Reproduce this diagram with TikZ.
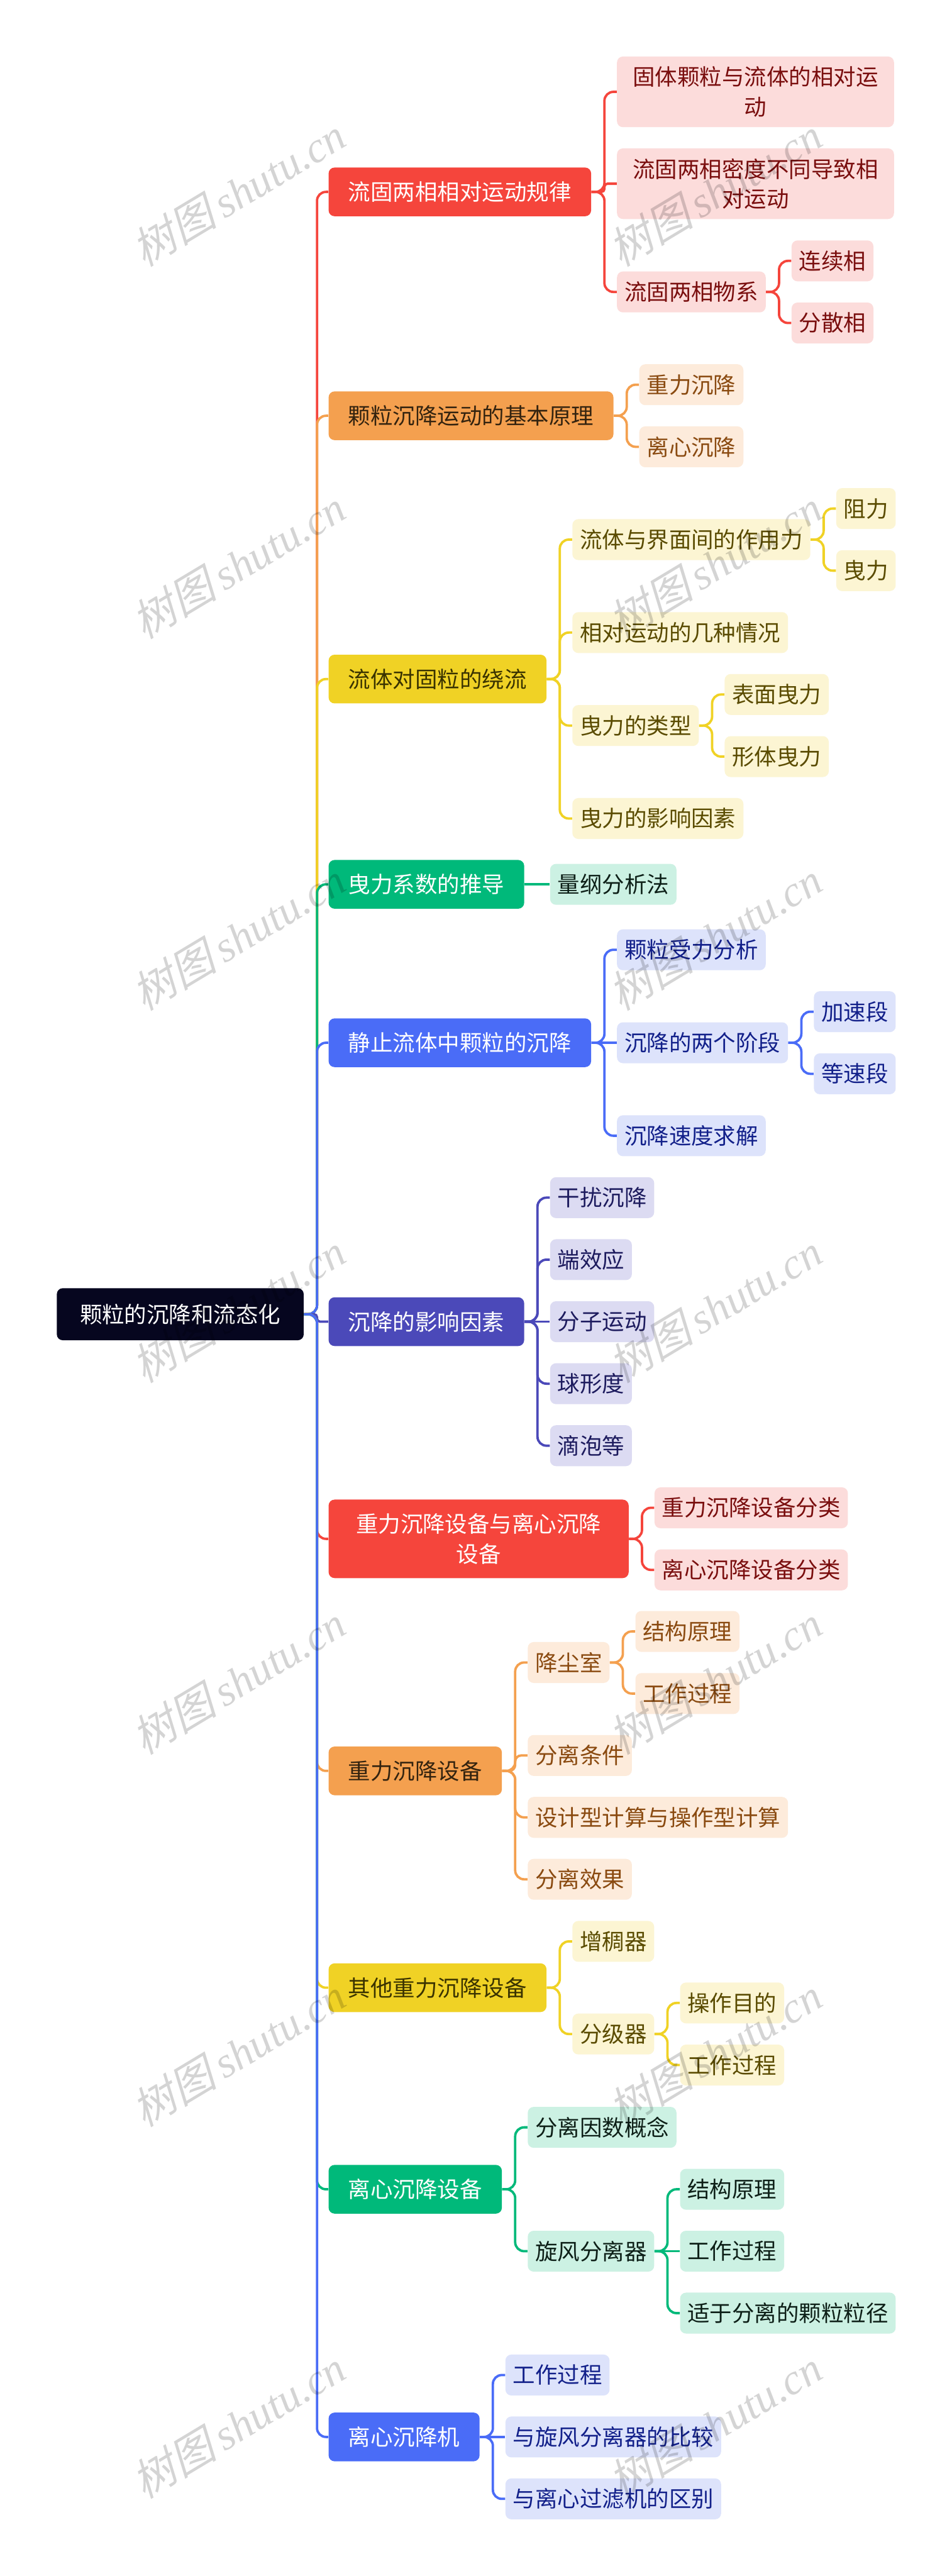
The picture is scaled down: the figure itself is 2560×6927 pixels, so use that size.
\documentclass[tikz,border=0pt]{standalone}
\usepackage{fontspec}
\setmainfont{Noto Sans CJK SC}
\newfontfamily\wmcjk{Noto Sans CJK SC}[FakeSlant=0.25]
\newfontfamily\wmlat{Liberation Serif}
\usetikzlibrary{calc}
\definecolor{rootc}{HTML}{06061F}
\definecolor{redA}{HTML}{F5453C}\definecolor{redB}{HTML}{FCDCDB}\definecolor{redT}{HTML}{7A0E0E}
\definecolor{oraA}{HTML}{F4A04F}\definecolor{oraB}{HTML}{FDEBDB}\definecolor{oraT}{HTML}{8A4A10}\definecolor{oraL}{HTML}{33230F}
\definecolor{yelA}{HTML}{F0D225}\definecolor{yelB}{HTML}{FCF5D3}\definecolor{yelT}{HTML}{5A4B00}\definecolor{yelL}{HTML}{3A3300}
\definecolor{grnA}{HTML}{00B97A}\definecolor{grnB}{HTML}{CCF1E3}\definecolor{grnT}{HTML}{0D1F17}
\definecolor{bluA}{HTML}{4A6CF7}\definecolor{bluB}{HTML}{DDE3FB}\definecolor{bluT}{HTML}{12208A}
\definecolor{indA}{HTML}{4B49B9}\definecolor{indB}{HTML}{DCDBF2}\definecolor{indT}{HTML}{1D1B5E}
\tikzset{
  base/.style={rounded corners=4pt, inner ysep=0pt, font=\fontsize{15pt}{20pt}\selectfont, anchor=west},
  rootbox/.style={base, fill=rootc, text=white, inner xsep=15.5pt, minimum height=35pt},
  lone/.style 2 args={base, fill=#1, text=#2, inner xsep=13.25pt, minimum height=32.75pt},
  ltwo/.style 2 args={base, fill=#1, text=#2, inner xsep=5pt, minimum height=27.5pt},
  conn/.style={line width=1.6pt, rounded corners=6pt, draw=#1},
  wm/.style={text=black, text opacity=0.17, rotate=31, font=\fontsize{29pt}{34pt}\selectfont, inner sep=0pt}
}
\begin{document}
\begin{tikzpicture}[x=0.25pt,y=-0.25pt]
\useasboundingbox[fill=white] (0,0) rectangle (2560,6927);
% root and level 1
\node[rootbox] (root) at (152,3534) {颗粒的沉降和流态化};
\node[lone={redA}{white}] (n1) at (883,516) {流固两相相对运动规律};
\node[lone={oraA}{oraL}] (n2) at (883,1118) {颗粒沉降运动的基本原理};
\node[lone={yelA}{yelL}] (n3) at (883,1826) {流体对固粒的绕流};
\node[lone={grnA}{white}] (n4) at (883,2378) {曳力系数的推导};
\node[lone={bluA}{white}] (n5) at (883,2804) {静止流体中颗粒的沉降};
\node[lone={indA}{white}] (n6) at (883,3554) {沉降的影响因素};
\node[lone={redA}{white}, text width=175.25pt, align=center, minimum height=52.75pt] (n7) at (883,4138) {重力沉降设备与离心沉降\\设备};
\node[lone={oraA}{oraL}] (n8) at (883,4762) {重力沉降设备};
\node[lone={yelA}{yelL}] (n9) at (883,5345) {其他重力沉降设备};
\node[lone={grnA}{white}] (n10) at (883,5887) {离心沉降设备};
\node[lone={bluA}{white}] (n11) at (883,6553) {离心沉降机};
% branch 1
\node[ltwo={redB}{redT}, text width=176.25pt, align=center, minimum height=47.5pt] (a1) at ($(n1.east)+(68,-269)$) {固体颗粒与流体的相对运\\动};
\node[ltwo={redB}{redT}, text width=176.25pt, align=center, minimum height=47.5pt] (a2) at ($(n1.east)+(68,-22)$) {流固两相密度不同导致相\\对运动};
\node[ltwo={redB}{redT}] (a3) at ($(n1.east)+(68,269)$) {流固两相物系};
\node[ltwo={redB}{redT}] (a31) at ($(a3.east)+(68,-83.5)$) {连续相};
\node[ltwo={redB}{redT}] (a32) at ($(a3.east)+(68,83.5)$) {分散相};
% branch 2
\node[ltwo={oraB}{oraT}] (b1) at ($(n2.east)+(68,-83.5)$) {重力沉降};
\node[ltwo={oraB}{oraT}] (b2) at ($(n2.east)+(68,83.5)$) {离心沉降};
% branch 3
\node[ltwo={yelB}{yelT}] (c1) at ($(n3.east)+(68,-375)$) {流体与界面间的作用力};
\node[ltwo={yelB}{yelT}] (c11) at ($(c1.east)+(68,-83.5)$) {阻力};
\node[ltwo={yelB}{yelT}] (c12) at ($(c1.east)+(68,83.5)$) {曳力};
\node[ltwo={yelB}{yelT}] (c2) at ($(n3.east)+(68,-125)$) {相对运动的几种情况};
\node[ltwo={yelB}{yelT}] (c3) at ($(n3.east)+(68,125)$) {曳力的类型};
\node[ltwo={yelB}{yelT}] (c31) at ($(c3.east)+(68,-83.5)$) {表面曳力};
\node[ltwo={yelB}{yelT}] (c32) at ($(c3.east)+(68,83.5)$) {形体曳力};
\node[ltwo={yelB}{yelT}] (c4) at ($(n3.east)+(68,375)$) {曳力的影响因素};
% branch 4
\node[ltwo={grnB}{grnT}] (d1) at ($(n4.east)+(68,0)$) {量纲分析法};
% branch 5
\node[ltwo={bluB}{bluT}] (e1) at ($(n5.east)+(68,-250)$) {颗粒受力分析};
\node[ltwo={bluB}{bluT}] (e2) at ($(n5.east)+(68,0)$) {沉降的两个阶段};
\node[ltwo={bluB}{bluT}] (e21) at ($(e2.east)+(68,-83.5)$) {加速段};
\node[ltwo={bluB}{bluT}] (e22) at ($(e2.east)+(68,83.5)$) {等速段};
\node[ltwo={bluB}{bluT}] (e3) at ($(n5.east)+(68,250)$) {沉降速度求解};
% branch 6
\node[ltwo={indB}{indT}] (f1) at ($(n6.east)+(68,-333.5)$) {干扰沉降};
\node[ltwo={indB}{indT}] (f2) at ($(n6.east)+(68,-166.75)$) {端效应};
\node[ltwo={indB}{indT}] (f3) at ($(n6.east)+(68,0)$) {分子运动};
\node[ltwo={indB}{indT}] (f4) at ($(n6.east)+(68,166.75)$) {球形度};
\node[ltwo={indB}{indT}] (f5) at ($(n6.east)+(68,333.5)$) {滴泡等};
% branch 7
\node[ltwo={redB}{redT}] (g1) at ($(n7.east)+(68,-83.5)$) {重力沉降设备分类};
\node[ltwo={redB}{redT}] (g2) at ($(n7.east)+(68,83.5)$) {离心沉降设备分类};
% branch 8
\node[ltwo={oraB}{oraT}] (h1) at ($(n8.east)+(68,-291.5)$) {降尘室};
\node[ltwo={oraB}{oraT}] (h11) at ($(h1.east)+(68,-83.5)$) {结构原理};
\node[ltwo={oraB}{oraT}] (h12) at ($(h1.east)+(68,83.5)$) {工作过程};
\node[ltwo={oraB}{oraT}] (h2) at ($(n8.east)+(68,-41.5)$) {分离条件};
\node[ltwo={oraB}{oraT}] (h3) at ($(n8.east)+(68,125)$) {设计型计算与操作型计算};
\node[ltwo={oraB}{oraT}] (h4) at ($(n8.east)+(68,291.5)$) {分离效果};
% branch 9
\node[ltwo={yelB}{yelT}] (i1) at ($(n9.east)+(68,-124.5)$) {增稠器};
\node[ltwo={yelB}{yelT}] (i2) at ($(n9.east)+(68,124.5)$) {分级器};
\node[ltwo={yelB}{yelT}] (i21) at ($(i2.east)+(68,-83.5)$) {操作目的};
\node[ltwo={yelB}{yelT}] (i22) at ($(i2.east)+(68,83.5)$) {工作过程};
% branch 10
\node[ltwo={grnB}{grnT}] (j1) at ($(n10.east)+(68,-166.5)$) {分离因数概念};
\node[ltwo={grnB}{grnT}] (j2) at ($(n10.east)+(68,166.5)$) {旋风分离器};
\node[ltwo={grnB}{grnT}] (j21) at ($(j2.east)+(68,-166.5)$) {结构原理};
\node[ltwo={grnB}{grnT}] (j22) at ($(j2.east)+(68,0)$) {工作过程};
\node[ltwo={grnB}{grnT}] (j23) at ($(j2.east)+(68,166.5)$) {适于分离的颗粒粒径};
% branch 11
\node[ltwo={bluB}{bluT}] (k1) at ($(n11.east)+(68,-166.5)$) {工作过程};
\node[ltwo={bluB}{bluT}] (k2) at ($(n11.east)+(68,0)$) {与旋风分离器的比较};
\node[ltwo={bluB}{bluT}] (k3) at ($(n11.east)+(68,166.5)$) {与离心过滤机的区别};
% connectors root -> level 1 (order matters for colours)
\draw[conn=redA] (root.east) -- ++(35,0) |- (n1.west);
\draw[conn=oraA] (root.east) -- ++(35,0) |- (n2.west);
\draw[conn=yelA] (root.east) -- ++(35,0) |- (n3.west);
\draw[conn=grnA] (root.east) -- ++(35,0) |- (n4.west);
\draw[conn=bluA] (root.east) -- ++(35,0) |- (n5.west);
\draw[conn=indA, rounded corners=2pt] (root.east) -- ++(35,0) |- (n6.west);
\draw[conn=redA] (root.east) -- ++(35,0) |- (n7.west);
\draw[conn=oraA] (root.east) -- ++(35,0) |- (n8.west);
\draw[conn=yelA] (root.east) -- ++(35,0) |- (n9.west);
\draw[conn=grnA] (root.east) -- ++(35,0) |- (n10.west);
\draw[conn=bluA] (root.east) -- ++(35,0) |- (n11.west);
% level 2 and 3 connectors
\foreach \p/\c in {n1/a1, n1/a3, a3/a31, a3/a32, n7/g1, n7/g2}
  \draw[conn=redA] (\p.east) -- ++(35,0) |- (\c.west);
\draw[conn=redA, rounded corners=2pt] (n1.east) -- ++(35,0) |- (a2.west);
\foreach \p/\c in {n2/b1, n2/b2, n8/h1, h1/h11, h1/h12, n8/h3, n8/h4}
  \draw[conn=oraA] (\p.east) -- ++(35,0) |- (\c.west);
\draw[conn=oraA, rounded corners=4pt] (n8.east) -- ++(35,0) |- (h2.west);
\foreach \p/\c in {n3/c1, c1/c11, c1/c12, n3/c2, n3/c3, c3/c31, c3/c32, n3/c4, n9/i1, n9/i2, i2/i21, i2/i22}
  \draw[conn=yelA] (\p.east) -- ++(35,0) |- (\c.west);
\foreach \p/\c in {n10/j1, n10/j2, j2/j21, j2/j23}
  \draw[conn=grnA] (\p.east) -- ++(35,0) |- (\c.west);
\draw[conn=grnA] (n4.east) -- (d1.west);
\draw[conn=grnA] (j2.east) -- (j22.west);
\foreach \p/\c in {n5/e1, e2/e21, e2/e22, n5/e3, n11/k1, n11/k3}
  \draw[conn=bluA] (\p.east) -- ++(35,0) |- (\c.west);
\draw[conn=bluA] (n5.east) -- (e2.west);
\draw[conn=bluA] (n11.east) -- (k2.west);
\foreach \p/\c in {n6/f1, n6/f2, n6/f4, n6/f5}
  \draw[conn=indA] (\p.east) -- ++(35,0) |- (\c.west);
\draw[conn=indA] (n6.east) -- (f3.west);
% watermarks
\foreach \yy in {516,1517,2518,3518,4518,5519,6519} {
  \node[wm] (wl\yy) at (641,\yy) {{\wmcjk 树图}{\wmlat\itshape\,shutu.cn}};
  \node[wm] (wr\yy) at (1922,\yy) {{\wmcjk 树图}{\wmlat\itshape\,shutu.cn}};
}
\end{tikzpicture}
\end{document}
